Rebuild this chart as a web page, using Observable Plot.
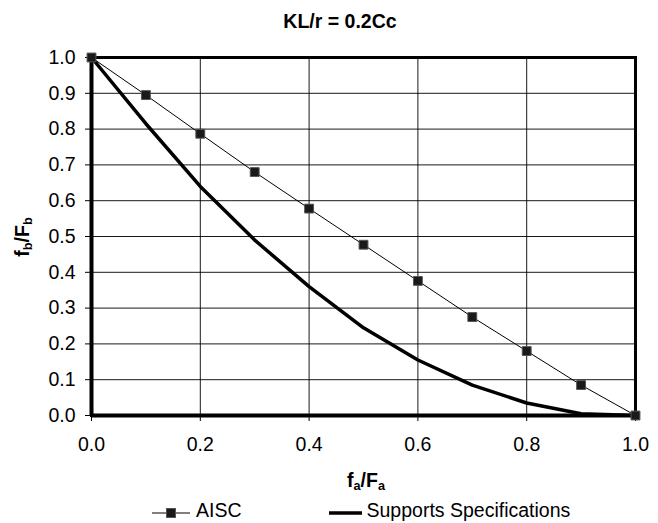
<!DOCTYPE html>
<html>
<head>
<meta charset="utf-8">
<script src="https://cdn.jsdelivr.net/npm/d3@7"></script>
<script src="https://cdn.jsdelivr.net/npm/@observablehq/plot@0.6"></script>
<style>
  html, body { margin: 0; padding: 0; background: #fff; }
  #wrap { position: relative; width: 658px; height: 523px; font-family: "Liberation Sans", Arial, sans-serif; color: #000; }
  .abs { position: absolute; white-space: nowrap; line-height: 1; }
  sub { font-size: 65%; vertical-align: -3px; line-height: 0; }
</style>
</head>
<body>
<div id="wrap">
  <div id="plot"></div>
  <div class="abs" id="title" style="left:0; width:680px; text-align:center; top:12px; font-size:19.5px; font-weight:bold;"></div>
  <div class="abs" id="xlab" style="left:0; width:732px; text-align:center; top:471px; font-size:19.5px; font-weight:bold;"></div>
  <div class="abs" id="ylab" style="left:23px; top:237px; font-size:19.5px; font-weight:bold; transform: translate(-50%,-50%) rotate(-90deg);"></div>
  <div class="abs" id="legend" style="left:152px; top:500px; font-size:19.5px;"></div>
</div>
<script>
// ---- data ----
const titleText = "KL/r = 0.2Cc";
const xValues = [0, 0.1, 0.2, 0.3, 0.4, 0.5, 0.6, 0.7, 0.8, 0.9, 1.0];
const aiscValues = [1.0, 0.895, 0.787, 0.68, 0.578, 0.477, 0.376, 0.275, 0.18, 0.085, 0.0];
const supportsValues = [1.0, 0.815, 0.64, 0.49, 0.36, 0.245, 0.155, 0.085, 0.035, 0.005, 0.0];
const seriesNames = ["AISC", "Supports Specifications"];
const xTicks = [0, 0.2, 0.4, 0.6, 0.8, 1.0];
const yTicks = [0, 0.1, 0.2, 0.3, 0.4, 0.5, 0.6, 0.7, 0.8, 0.9, 1.0];

const aisc = xValues.map((x, i) => ({x, y: aiscValues[i]}));
const supports = xValues.map((x, i) => ({x, y: supportsValues[i]}));
const fmt = d3.format(".1f");

const chart = Plot.plot({
  width: 658,
  height: 523,
  marginTop: 57,
  marginLeft: 91,
  marginRight: 23,
  marginBottom: 108,
  style: {fontFamily: "'Liberation Sans', Arial, sans-serif", fontSize: "19.5px", color: "#000", background: "#fff", overflow: "visible"},
  x: {domain: [0, 1]},
  y: {domain: [0, 1]},
  marks: [
    Plot.gridX(xTicks, {stroke: "#000", strokeOpacity: 0.9, strokeWidth: 1}),
    Plot.gridY(yTicks, {stroke: "#000", strokeOpacity: 0.9, strokeWidth: 1}),
    Plot.axisX(xTicks, {tickFormat: fmt, tickSize: 6, tickPadding: 16, label: null, fontSize: 19.5, stroke: "#000"}),
    Plot.axisY(yTicks, {tickFormat: fmt, tickSize: 6, tickPadding: 10, label: null, fontSize: 19.5, stroke: "#000"}),
    Plot.frame({stroke: "#000", strokeWidth: 3}),
    Plot.ruleX([0], {stroke: "#000", strokeWidth: 4}),
    Plot.ruleY([0], {stroke: "#000", strokeWidth: 4}),
    Plot.line(supports, {x: "x", y: "y", stroke: "#000", strokeWidth: 3.5, strokeLinejoin: "round"}),
    Plot.line(aisc, {x: "x", y: "y", stroke: "#000", strokeWidth: 1}),
    Plot.dot(aisc, {x: "x", y: "y", symbol: "square", r: 5, fill: "#1a1a1a", stroke: "#555", strokeWidth: 1})
  ]
});
document.getElementById("plot").appendChild(chart);

document.getElementById("title").textContent = titleText;
document.getElementById("xlab").innerHTML = "f<sub>a</sub>/F<sub>a</sub>";
document.getElementById("ylab").innerHTML = "f<sub>b</sub>/F<sub>b</sub>";

const leg = document.getElementById("legend");
leg.innerHTML =
  `<span style="display:inline-block; vertical-align:middle; width:38px; height:14px;">
     <svg width="38" height="14"><line x1="0" y1="7" x2="38" y2="7" stroke="#000" stroke-width="1"/>
     <rect x="14.5" y="2.5" width="9" height="9" fill="#1a1a1a" stroke="#555"/></svg></span>` +
  `<span style="vertical-align:middle; margin-left:6px;">${seriesNames[0]}</span>` +
  `<span style="display:inline-block; vertical-align:middle; width:33px; height:14px; margin-left:87px;">
     <svg width="33" height="14"><line x1="0" y1="7" x2="33" y2="7" stroke="#000" stroke-width="3.5"/></svg></span>` +
  `<span style="vertical-align:middle; margin-left:5px;">${seriesNames[1]}</span>`;
</script>
</body>
</html>
